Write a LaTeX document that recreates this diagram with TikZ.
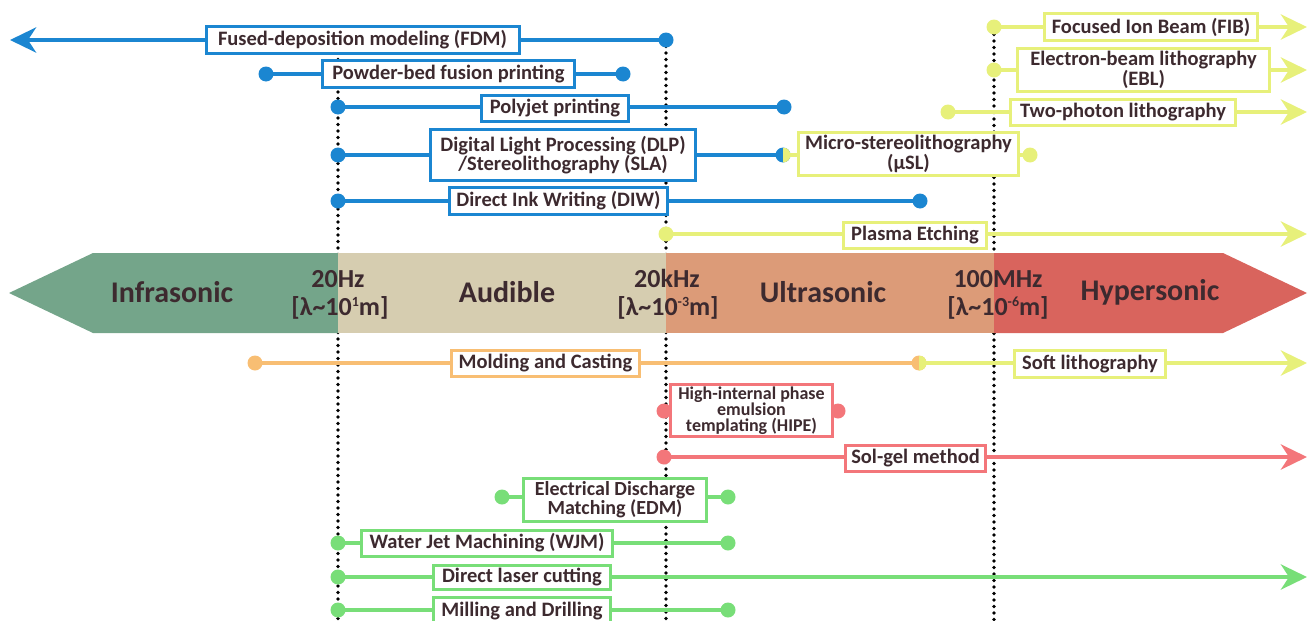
\documentclass[tikz,border=0pt]{standalone}
\usepackage{fontspec}
\setmainfont{Carlito}
\usepackage{xcolor}
\usetikzlibrary{arrows.meta,positioning}

\definecolor{ink}{HTML}{3D2A2F}
\definecolor{fblue}{HTML}{1B86D1}
\definecolor{fyellow}{HTML}{E7F07A}
\definecolor{forange}{HTML}{F8BE73}
\definecolor{fred}{HTML}{F3767A}
\definecolor{fgreen}{HTML}{78DE78}
\definecolor{infra}{HTML}{74A58A}
\definecolor{audio}{HTML}{D6CDB0}
\definecolor{ultra}{HTML}{DC9B78}
\definecolor{hyper}{HTML}{D9645D}
\newcommand{\sups}[1]{\raisebox{9pt}{\fontsize{14}{14}\selectfont #1}}

\begin{document}
\begin{tikzpicture}[x=1pt, y=-1pt,
    mlabel/.style={draw=#1, line width=3pt, fill=white, text=ink, inner sep=0pt,
        font=\bfseries\fontsize{20.5}{18}\selectfont, align=center},
    ball/.style={circle, fill=#1, inner sep=0pt, minimum size=15pt},
    halfball/.style 2 args={circle, fill=#1, inner sep=0pt, minimum size=15pt,
        path picture={\fill[#2] (path picture bounding box.south) rectangle (path picture bounding box.north east);}},
    run/.style={draw=#1, line width=4.5pt},
    reach/.style={-{Stealth[length=26pt, width=25pt, inset=8pt]}},
    divide/.style={line width=3.8pt, dash pattern=on 0pt off 6.5pt, line cap=round},
    band/.style={text=ink, anchor=base, font=\bfseries\fontsize{30}{30}\selectfont},
    freq/.style={text=ink, anchor=base, font=\bfseries\fontsize{26}{28}\selectfont}]
\useasboundingbox (0,0) rectangle (1309,621);
\clip (0,0) rectangle (1309,621);

\draw[divide] (338,40) -- (338,621);
\draw[divide] (666,40) -- (666,621);
\draw[divide] (994,28) -- (994,621);

\fill[infra] (9,293) -- (93,253) -- (338,253) -- (338,333) -- (93,333) -- cycle;
\fill[audio] (338,253) rectangle (666,333);
\fill[ultra] (666,253) rectangle (994,333);
\fill[hyper] (994,253) -- (1223,253) -- (1307,293) -- (1223,333) -- (994,333) -- cycle;
\node[band] (infrasonic) at (172,302) {Infrasonic};
\node[band] (audible) at (507,302) {Audible};
\node[band] (ultrasonic) at (823,302) {Ultrasonic};
\node[band] (hypersonic) at (1150,300) {Hypersonic};
\node[freq] (hzA) at (338,287) {20Hz};
\node[freq] (lamA) at (340,315) {[λ\textasciitilde10\sups{1}m]};
\node[freq] (hzB) at (667,287) {20kHz};
\node[freq] (lamB) at (668,315) {[λ\textasciitilde10\sups{-3}m]};
\node[freq] (hzC) at (998,287) {100MHz};
\node[freq] (lamC) at (998,315) {[λ\textasciitilde10\sups{-6}m]};

% blue
\node[ball=fblue] (fdmR) at (666,40) {};
\coordinate (fdmL) at (10,40);
\draw[run=fblue, reach] (fdmR.center) -- (fdmL);
\node[mlabel=fblue, minimum width=313pt, minimum height=27pt] (fdm) at (362.5,40) {Fused-deposition modeling (FDM)};

\node[ball=fblue] (pbfL) at (266,74) {};
\node[ball=fblue] (pbfR) at (623,74) {};
\draw[run=fblue] (pbfL.center) -- (pbfR.center);
\node[mlabel=fblue, minimum width=252pt, minimum height=27pt] (pbf) at (448.5,74) {Powder-bed fusion printing};

\node[ball=fblue] (pjtL) at (338,107) {};
\node[ball=fblue] (pjtR) at (784,107) {};
\draw[run=fblue] (pjtL.center) -- (pjtR.center);
\node[mlabel=fblue, minimum width=147pt, minimum height=26pt] (pjt) at (555,108) {Polyjet printing};

\node[ball=fblue] (dlpL) at (338,155) {};
\node[halfball={fblue}{fyellow}] (dlpR) at (783,155) {};
\node[ball=fyellow] (uslR) at (1030,155) {};
\draw[run=fblue] (dlpL.center) -- (dlpR.center);
\draw[run=fyellow] (dlpR.center) -- (uslR.center);
\node[mlabel=fblue, minimum width=265pt, minimum height=51pt] (dlp) at (563,155) {Digital Light Processing (DLP)\\/Stereolithography (SLA)};
\node[mlabel=fyellow, minimum width=220pt, minimum height=43pt] (usl) at (908.5,154) {Micro-stereolithography\\(µSL)};

\node[ball=fblue] (diwL) at (338,201) {};
\node[ball=fblue] (diwR) at (920,201) {};
\draw[run=fblue] (diwL.center) -- (diwR.center);
\node[mlabel=fblue, minimum width=218pt, minimum height=27pt] (diw) at (558.5,201) {Direct Ink Writing (DIW)};

% yellow
\node[ball=fyellow] (fibL) at (994,27) {};
\coordinate (fibR) at (1307,27);
\draw[run=fyellow, reach] (fibL.center) -- (fibR);
\node[mlabel=fyellow, minimum width=213pt, minimum height=27pt] (fib) at (1151,27) {Focused Ion Beam (FIB)};

\node[ball=fyellow] (eblL) at (994,70) {};
\coordinate (eblR) at (1307,70);
\draw[run=fyellow, reach] (eblL.center) -- (eblR);
\node[mlabel=fyellow, minimum width=252pt, minimum height=43pt] (ebl) at (1143.5,70) {Electron-beam lithography\\(EBL)};

\node[ball=fyellow] (tplL) at (948,112) {};
\coordinate (tplR) at (1307,112);
\draw[run=fyellow, reach] (tplL.center) -- (tplR);
\node[mlabel=fyellow, minimum width=225pt, minimum height=26pt] (tpl) at (1123,112.5) {Two-photon lithography};

\node[ball=fyellow] (peL) at (666,234) {};
\coordinate (peR) at (1307,234);
\draw[run=fyellow, reach] (peL.center) -- (peR);
\node[mlabel=fyellow, minimum width=143pt, minimum height=26pt] (pe) at (915,235.5) {Plasma Etching};

% orange / yellow
\node[ball=forange] (mcL) at (255,363) {};
\node[halfball={forange}{fyellow}] (mcR) at (919,363) {};
\coordinate (slR) at (1307,363);
\draw[run=forange, line width=4pt] (mcL.center) -- (mcR.center);
\draw[run=fyellow, reach] (mcR.center) -- (slR);
\node[mlabel=forange, minimum width=188pt, minimum height=26pt] (mc) at (545.5,363.5) {Molding and Casting};
\node[mlabel=fyellow, minimum width=151pt, minimum height=27pt] (sl) at (1090,364) {Soft lithography};

% red
\node[ball=fred] (hipeL) at (664,411) {};
\node[ball=fred] (hipeR) at (838,411) {};
\draw[run=fred] (hipeL.center) -- (hipeR.center);
\node[mlabel=fred, minimum width=162pt, minimum height=52pt, font=\bfseries\fontsize{18}{15.5}\selectfont] (hipe) at (751.5,410.5) {High-internal phase\\emulsion\\templating (HIPE)};

\node[ball=fred] (sgL) at (664,457) {};
\coordinate (sgR) at (1307,457);
\draw[run=fred, reach] (sgL.center) -- (sgR);
\node[mlabel=fred, minimum width=140pt, minimum height=26pt] (sg) at (915.5,458.5) {Sol-gel method};

% green
\node[ball=fgreen] (edmL) at (502,497) {};
\node[ball=fgreen] (edmR) at (728,497) {};
\draw[run=fgreen] (edmL.center) -- (edmR.center);
\node[mlabel=fgreen, minimum width=183pt, minimum height=43pt, font=\bfseries\fontsize{20}{17}\selectfont] (edm) at (615,500) {Electrical Discharge\\Matching (EDM)};

\node[ball=fgreen] (wjmL) at (338,543) {};
\node[ball=fgreen] (wjmR) at (728,543) {};
\draw[run=fgreen] (wjmL.center) -- (wjmR.center);
\node[mlabel=fgreen, minimum width=251pt, minimum height=26pt] (wjm) at (487,543) {Water Jet Machining (WJM)};

\node[ball=fgreen] (dlcL) at (338,577) {};
\coordinate (dlcR) at (1307,577);
\draw[run=fgreen, reach] (dlcL.center) -- (dlcR);
\node[mlabel=fgreen, minimum width=177pt, minimum height=24pt] (dlc) at (522,577) {Direct laser cutting};

\node[ball=fgreen] (mdL) at (338,610) {};
\node[ball=fgreen] (mdR) at (728,610) {};
\draw[run=fgreen] (mdL.center) -- (mdR.center);
\node[mlabel=fgreen, minimum width=177pt, minimum height=27pt] (md) at (522,611) {Milling and Drilling};
\end{tikzpicture}
\end{document}
